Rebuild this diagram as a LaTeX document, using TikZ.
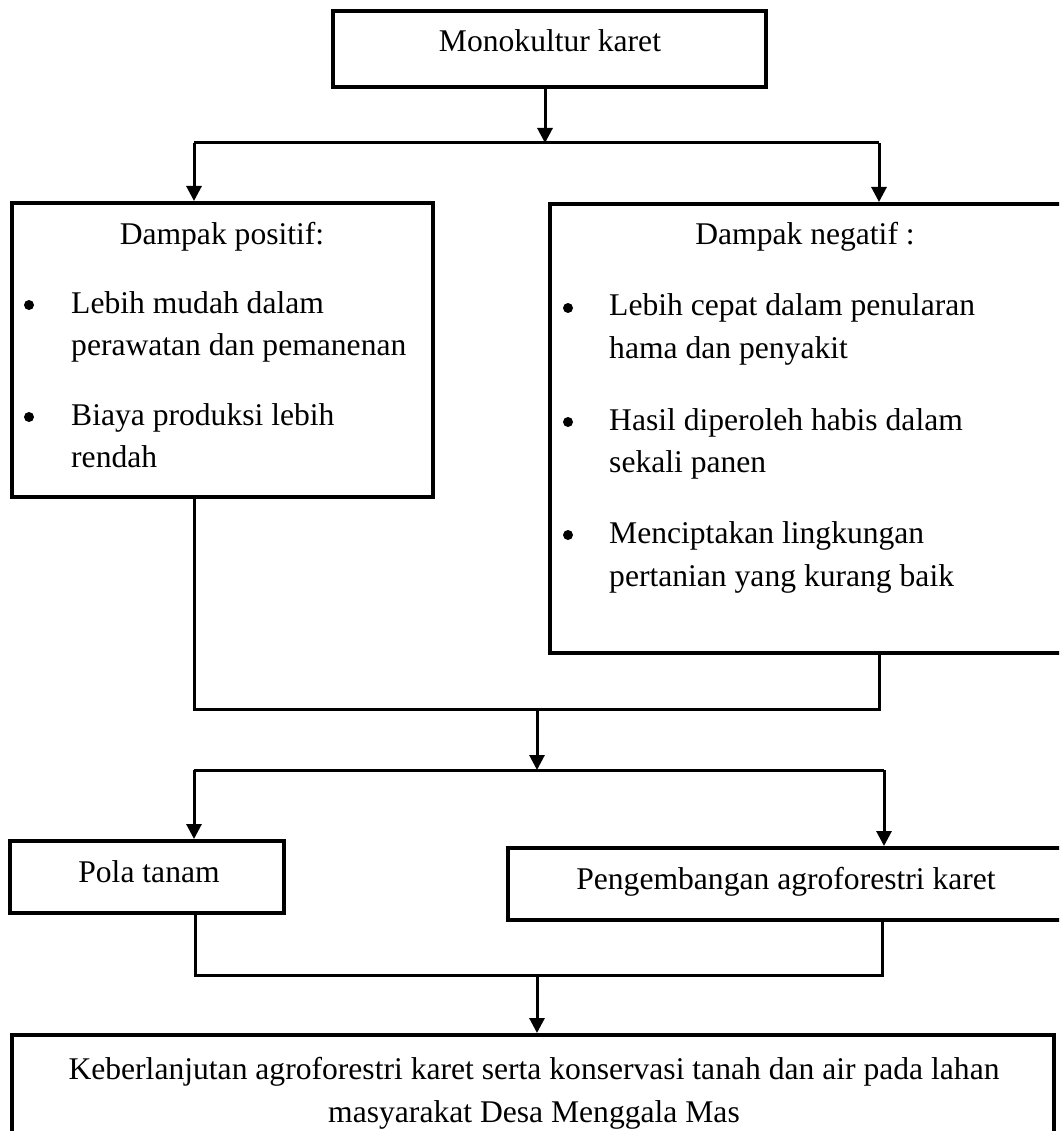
\documentclass[tikz,border=0pt]{standalone}
\usepackage{fontspec}
\setmainfont{Liberation Serif}
\usetikzlibrary{arrows.meta,calc}
\begin{document}
\begin{tikzpicture}[x=1pt,y=-1pt,
  box/.style={draw, line width=4pt, inner sep=0pt, rectangle},
  conn/.style={line width=3pt},
  arr/.style={conn, -{Triangle[length=15pt,width=15pt]}},
  bul/.style={circle, fill, inner sep=0pt, minimum size=10pt},
  txt/.style={inner sep=0pt, font=\fontsize{31.6pt}{38pt}\selectfont}]
\useasboundingbox[fill=white] (0,0) rectangle (1059,1131);
\clip (0,0) rectangle (1059,1131);
% boxes
\node[box, minimum width=433pt, minimum height=76pt] (top) at (549.5,49) {};
\node[box, minimum width=421pt, minimum height=294pt] (left) at (222.5,350) {};
\node[box, minimum width=520pt, minimum height=449pt] (right) at (810,428.5) {};
\node[box, minimum width=274pt, minimum height=72pt] (pola) at (147,877) {};
\node[box, minimum width=562pt, minimum height=72pt] (peng) at (789,884) {};
\node[box, minimum width=1042pt, minimum height=110pt] (bottom) at (533,1090) {};
% texts
\node[txt, anchor=base] (tTop) at (550,52) {Monokultur karet};
\node[txt, anchor=base] (lh) at (222,245) {Dampak positif:};
\node[bul] (lb1) at (29,305) {};
\node[txt, anchor=base west] (l1a) at (71,313) {Lebih mudah dalam};
\node[txt, anchor=base west] (l1b) at (71,355) {perawatan dan pemanenan};
\node[bul] (lb2) at (29,417) {};
\node[txt, anchor=base west] (l2a) at (71,425) {Biaya produksi lebih};
\node[txt, anchor=base west] (l2b) at (71,467) {rendah};
\node[txt, anchor=base] (rh) at (805,245) {Dampak negatif :};
\node[bul] (rb1) at (568,308) {};
\node[txt, anchor=base west] (r1a) at (609,316) {Lebih cepat dalam penularan};
\node[txt, anchor=base west] (r1b) at (609,358) {hama dan penyakit};
\node[bul] (rb2) at (568,422) {};
\node[txt, anchor=base west] (r2a) at (609,430) {Hasil diperoleh habis dalam};
\node[txt, anchor=base west] (r2b) at (609,472) {sekali panen};
\node[bul] (rb3) at (568,535) {};
\node[txt, anchor=base west] (r3a) at (609,543) {Menciptakan lingkungan};
\node[txt, anchor=base west] (r3b) at (609,586) {pertanian yang kurang baik};
\node[txt, anchor=base] (tPola) at (149,882) {Pola tanam};
\node[txt, anchor=base] (tPeng) at (786,889) {Pengembangan agroforestri karet};
\node[txt, anchor=base] (tB1) at (534,1079) {Keberlanjutan agroforestri karet serta konservasi tanah dan air pada lahan};
\node[txt, anchor=base] (tB2) at (534,1122) {masyarakat Desa Menggala Mas};
% junction coordinates
\coordinate (j0) at (545,143);
\coordinate (jL) at (194,143);
\coordinate (jR) at (879,143);
\coordinate (kL) at (194,709);
\coordinate (kR) at (879,709);
\coordinate (k0) at (537,709);
\coordinate (m0) at (537,770);
\coordinate (mL) at (194,770);
\coordinate (mR) at (884,770);
\coordinate (nL) at (195,975);
\coordinate (nR) at (882,975);
\coordinate (n0) at (537,975);
% connectors
\draw[arr] (top.south -| j0) -- (j0);
\draw[conn] (jL) -- (jR);
\draw[arr] (jL) -- (left.north -| jL);
\draw[arr] (jR) -- (right.north -| jR);
\draw[conn] (left.south -| kL) -- (kL) -- (kR) -- (right.south -| kR);
\draw[arr] (k0) -- (m0);
\draw[conn] (mL) -- (mR);
\draw[arr] (mL) -- (pola.north -| mL);
\draw[arr] (mR) -- (peng.north -| mR);
\draw[conn] (pola.south -| nL) -- (nL) -- (nR) -- (peng.south -| nR);
\draw[arr] (n0) -- (bottom.north -| n0);
\end{tikzpicture}
\end{document}
